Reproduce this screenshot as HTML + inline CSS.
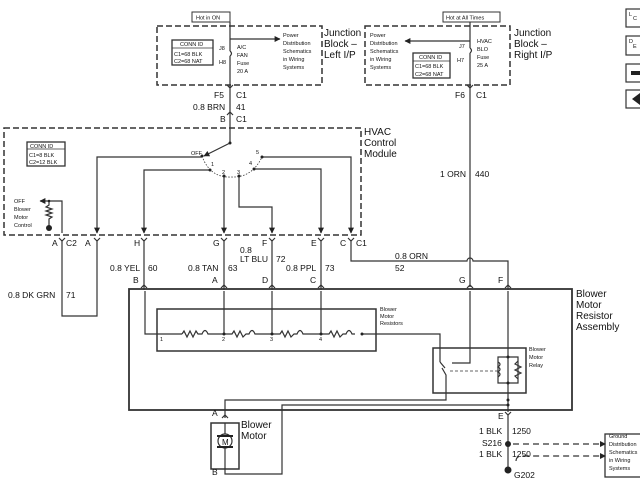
<!DOCTYPE html>
<html><head><meta charset="utf-8"><style>
html,body{margin:0;padding:0;background:#fff;}
svg{display:block;font-family:"Liberation Sans",sans-serif;}
text{fill:#111;}
.s{font-size:5.5px}.m{font-size:8.5px}.l{font-size:10px}
</style></head><body>
<svg width="640" height="480" viewBox="0 0 640 480" xmlns="http://www.w3.org/2000/svg">
<defs>
<marker id="ar" viewBox="0 0 10 10" refX="9" refY="5" markerWidth="5" markerHeight="5" orient="auto"><path d="M0,0L10,5L0,10z" fill="#222"/></marker>
</defs>
<g fill="none" stroke="#333" stroke-width="1.2">
<rect x="192" y="12" width="38" height="10" stroke-width="1"/>
<rect x="157" y="26" width="165" height="59" stroke-dasharray="6,3" stroke-width="1.5"/>
<rect x="172" y="40" width="41" height="25" stroke-width="1.3"/>
<line x1="172" y1="48" x2="213" y2="48" stroke-width="0.8"/>
<line x1="230" y1="22" x2="230" y2="51"/>
<path d="M230,51 q3,2.5 0,5"/>
<line x1="230" y1="56" x2="230" y2="88"/>
<line x1="230" y1="39" x2="280" y2="39" marker-end="url(#ar)"/>
<path d="M227,85 L230,88 L233,85 M230,88 L230,100 M227,115 L230,112 L233,115 M230,112 L230,128" />
<line x1="230" y1="100" x2="230" y2="112"/>
<rect x="443" y="12" width="57" height="10" stroke-width="1"/>
<rect x="365" y="26" width="145" height="59" stroke-dasharray="6,3" stroke-width="1.5"/>
<rect x="413" y="53" width="37" height="25" stroke-width="1.3"/>
<line x1="413" y1="61" x2="450" y2="61" stroke-width="0.8"/>
<line x1="470" y1="22" x2="470" y2="48"/>
<path d="M470,48 q3,2.5 0,5"/>
<line x1="470" y1="53" x2="470" y2="88"/>
<line x1="470" y1="41" x2="405" y2="41" marker-end="url(#ar)"/>
<path d="M467,85 L470,88 L473,85"/>
<path d="M470,88 L470,261 M470,261 L470,287"/>
<rect x="4" y="128" width="357" height="107" stroke-dasharray="6,3" stroke-width="1.5"/>
<rect x="27" y="142" width="38" height="24" stroke-width="1.3"/>
<line x1="27" y1="149" x2="65" y2="149" stroke-width="0.8"/>
<line x1="230" y1="128" x2="230" y2="143"/>
<line x1="230" y1="143" x2="204" y2="156" marker-end="url(#ar)"/>
<path d="M202,156 Q210,178 231,177 Q252,178 262,157" stroke-dasharray="1.5,1.5" stroke-width="0.8"/>
<path d="M202,157 L97,157 L97,233" marker-end="url(#ar)"/>
<path d="M210,170 L144,170 L144,233" marker-end="url(#ar)"/>
<path d="M224,176 L224,233" marker-end="url(#ar)"/>
<path d="M239,176 L239,207 L272,207 L272,233" marker-end="url(#ar)"/>
<path d="M254,169 L321,169 L321,233" marker-end="url(#ar)"/>
<path d="M262,157 L351,157 L351,233" marker-end="url(#ar)"/>
<path d="M62,233 L62,201 L40,201" marker-end="url(#ar)"/>
<path d="M49,201 L49,205 l-3,2 l6,2 l-6,2 l6,2 l-6,2 l6,2 l-3,2 L49,226"/>
<path d="M59,238 l3,3 l3,-3 M94,238 l3,3 l3,-3 M141,238 l3,3 l3,-3 M221,238 l3,3 l3,-3 M269,238 l3,3 l3,-3 M318,238 l3,3 l3,-3 M348,238 l3,3 l3,-3"/>
<path d="M62,241 L62,316 L97,316 L97,241"/>
<path d="M144,241 L144,290 M224,241 L224,290 M272,241 L272,290 M321,241 L321,290"/>
<path d="M351,241 L351,261 L467,261 a3,3 0 0 1 6,0 L508,261 L508,290"/>
<path d="M141,288 l3,-3 l3,3 M221,288 l3,-3 l3,3 M269,288 l3,-3 l3,3 M318,288 l3,-3 l3,3 M467,288 l3,-3 l3,3 M505,288 l3,-3 l3,3"/>
<rect x="129" y="289" width="443" height="121" stroke-width="1.8"/>
<rect x="157" y="309" width="219" height="42" stroke-width="1.5"/>
<path d="M145,291 L145,334 L182,334" />
<path d="M224,291 L224,334 M272,291 L272,334 M321,291 L321,334"/>
<path d="M182,334 l2,-3 l3,6 l3,-6 l3,6 l3,-6 l2,3 l4,0 q3,-7 6,0 l3,0 L224,334 l8,0 l2,-3 l3,6 l3,-6 l3,6 l3,-3 l3,0 q3,-7 6,0 L272,334 l8,0 l2,-3 l3,6 l3,-6 l3,6 l3,-3 l3,0 q3,-7 6,0 L321,334 l8,0 l2,-3 l3,6 l3,-6 l3,6 l3,-3 l3,0 q3,-7 6,0 l3,0"/>
<path d="M362,334 L440,334 L440,362"/>
<rect x="433" y="348" width="93" height="45" stroke-width="1.5"/>
<path d="M440,362 L445,368 M452,363 L470,363 L470,291"/>
<path d="M442,368 L446,375 L446,400 L225,400 L225,418"/>
<path d="M450,371 L498,371" stroke-dasharray="3,2" stroke-width="0.8"/>
<path d="M508,291 L508,357 L498,357 L498,383 L508,383 L508,357 L518,357 L518,383 L508,383 L508,412"/>
<path d="M518,361 l-3,3 l6,3 l-6,3 l6,3 l-6,3 l3,3"/>
<path d="M498,362 q4,2 0,5 q4,2 0,5 q4,2 0,5"/>
<path d="M508,405 L282,405 L282,474 L225,474 L225,468"/>
<path d="M222,418 l3,-3 l3,3 M505,412 l3,3 l3,-3"/>
<rect x="211" y="423" width="28" height="46" stroke-width="1.5"/>
<circle cx="225" cy="441" r="7"/>
<path d="M225,423 L225,434 M225,448 L225,469"/>
<path d="M508,415 L508,468"/>
<path d="M513,444 L600,444" stroke-dasharray="6,4"/>
<path d="M516,461 q0,-5 6,-5 L600,456" stroke-dasharray="6,4"/>
<rect x="605" y="434" width="40" height="43" stroke-width="1.3"/>
<rect x="626" y="9" width="20" height="18"/>
<rect x="626" y="36" width="20" height="19"/>
<rect x="626" y="64" width="20" height="18"/>
<rect x="626" y="90" width="20" height="18"/>
</g>
<g fill="#222">
<circle cx="230" cy="143" r="1.5"/><circle cx="202" cy="156" r="1.5"/><circle cx="210" cy="170" r="1.5"/><circle cx="224" cy="176" r="1.5"/><circle cx="239" cy="176" r="1.5"/><circle cx="254" cy="169" r="1.5"/><circle cx="262" cy="157" r="1.5"/>
<circle cx="49" cy="201" r="1.3"/><circle cx="49" cy="228" r="3"/>
<circle cx="224" cy="334" r="1.5"/><circle cx="272" cy="334" r="1.5"/><circle cx="321" cy="334" r="1.5"/><circle cx="362" cy="334" r="1.5"/>
<circle cx="508" cy="357" r="1.5"/><circle cx="508" cy="383" r="1.5"/><circle cx="508" cy="400" r="1.5"/><circle cx="508" cy="405" r="1.5"/>
<circle cx="508" cy="444" r="3"/><circle cx="508" cy="470" r="3.5"/>
<path d="M600,441 l6,3 l-6,3z M600,453 l6,3 l-6,3z"/>
<rect x="631" y="71" width="9" height="4"/><path d="M632,99 l8,-6 v12z"/>
<rect x="217" y="435" width="16" height="2"/><rect x="217" y="446" width="16" height="2"/>
</g>
<g class="s">
<text x="196" y="19.5">Hot in ON</text>
<text x="446" y="19.5">Hot at All Times</text>
<text x="180" y="46">CONN ID</text><text x="174" y="56">C1=68 BLK</text><text x="174" y="63">C2=68 NAT</text>
<text x="419" y="59">CONN ID</text><text x="415" y="68">C1=68 BLK</text><text x="415" y="76">C2=68 NAT</text>
<text x="219" y="50">J8</text><text x="219" y="64">H8</text>
<text x="237" y="49">A/C</text><text x="237" y="57">FAN</text><text x="237" y="65">Fuse</text><text x="237" y="73">20 A</text>
<text x="283" y="37">Power</text><text x="283" y="45">Distribution</text><text x="283" y="53">Schematics</text><text x="283" y="61">in Wiring</text><text x="283" y="69">Systems</text>
<text x="370" y="37">Power</text><text x="370" y="45">Distribution</text><text x="370" y="53">Schematics</text><text x="370" y="61">in Wiring</text><text x="370" y="69">Systems</text>
<text x="459" y="48">J7</text><text x="457" y="62">H7</text>
<text x="477" y="43">HVAC</text><text x="477" y="51">BLO</text><text x="477" y="59">Fuse</text><text x="477" y="67">25 A</text>
<text x="30" y="148">CONN ID</text><text x="29" y="157">C1=8 BLK</text><text x="29" y="164">C2=12 BLK</text>
<text x="191" y="155">OFF</text><text x="211" y="166">1</text><text x="222" y="174">2</text><text x="237" y="174">3</text><text x="249" y="165">4</text><text x="256" y="154">5</text>
<text x="14" y="203">OFF</text><text x="14" y="211">Blower</text><text x="14" y="219">Motor</text><text x="14" y="227">Control</text>
<text x="380" y="311">Blower</text><text x="380" y="318">Motor</text><text x="380" y="325">Resistors</text>
<text x="160" y="341">1</text><text x="222" y="341">2</text><text x="270" y="341">3</text><text x="319" y="341">4</text>
<text x="529" y="351">Blower</text><text x="529" y="359">Motor</text><text x="529" y="367">Relay</text>
<text x="609" y="438">Ground</text><text x="609" y="446">Distribution</text><text x="609" y="454">Schematics</text><text x="609" y="462">in Wiring</text><text x="609" y="470">Systems</text>
<text x="629" y="16">L</text><text x="633" y="20">C</text><text x="629" y="43">D</text><text x="633" y="48">E</text>
</g>
<g class="m">
<text x="214" y="98">F5</text><text x="236" y="98">C1</text>
<text x="193" y="110">0.8 BRN</text><text x="236" y="110">41</text>
<text x="220" y="122">B</text><text x="236" y="122">C1</text>
<text x="455" y="98">F6</text><text x="476" y="98">C1</text>
<text x="440" y="177">1 ORN</text><text x="475" y="177">440</text>
<text x="52" y="246">A</text><text x="66" y="246">C2</text><text x="85" y="246">A</text><text x="134" y="246">H</text><text x="213" y="246">G</text><text x="262" y="246">F</text><text x="311" y="246">E</text><text x="340" y="246">C</text><text x="356" y="246">C1</text>
<text x="240" y="253">0.8</text><text x="240" y="262">LT BLU</text><text x="276" y="262">72</text>
<text x="110" y="271">0.8 YEL</text><text x="148" y="271">60</text>
<text x="188" y="271">0.8 TAN</text><text x="228" y="271">63</text>
<text x="286" y="271">0.8 PPL</text><text x="325" y="271">73</text>
<text x="395" y="259">0.8 ORN</text><text x="395" y="271">52</text>
<text x="133" y="283">B</text><text x="212" y="283">A</text><text x="262" y="283">D</text><text x="310" y="283">C</text><text x="459" y="283">G</text><text x="498" y="283">F</text>
<text x="8" y="298">0.8 DK GRN</text><text x="66" y="298">71</text>
<text x="212" y="416">A</text><text x="212" y="475">B</text>
<text x="498" y="419">E</text>
<text x="479" y="434">1 BLK</text><text x="512" y="434">1250</text>
<text x="482" y="446">S216</text>
<text x="479" y="457">1 BLK</text><text x="512" y="457">1250</text>
<text x="514" y="478">G202</text>
<text x="222" y="445" style="font-size:8px">M</text>
</g>
<g class="l">
<text x="324" y="36">Junction</text><text x="324" y="47">Block –</text><text x="324" y="58">Left I/P</text>
<text x="514" y="36">Junction</text><text x="514" y="47">Block –</text><text x="514" y="58">Right I/P</text>
<text x="364" y="135">HVAC</text><text x="364" y="146">Control</text><text x="364" y="157">Module</text>
<text x="576" y="297">Blower</text><text x="576" y="308">Motor</text><text x="576" y="319">Resistor</text><text x="576" y="330">Assembly</text>
<text x="241" y="428">Blower</text><text x="241" y="439">Motor</text>
</g>
</svg>
</body></html>
